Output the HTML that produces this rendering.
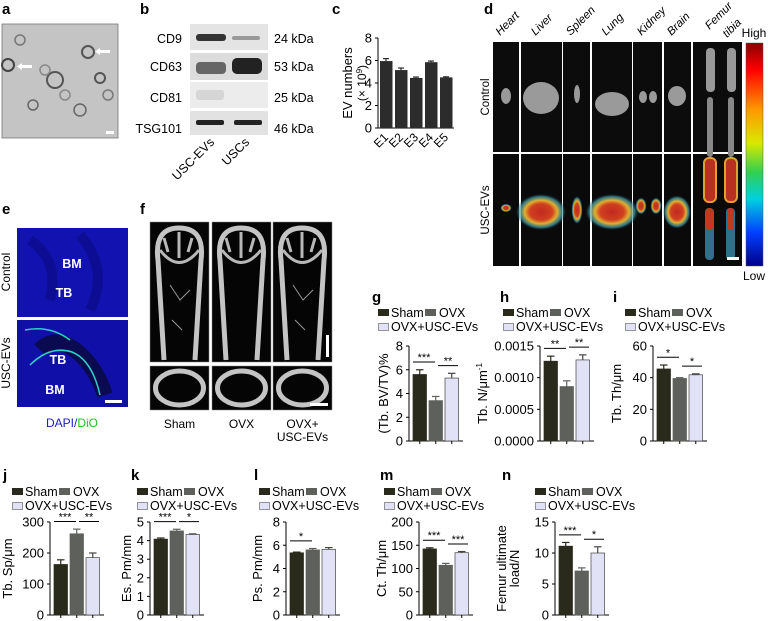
<!DOCTYPE html>
<html><head><meta charset="utf-8"><style>
html,body{margin:0;padding:0;background:#fff;}
svg{display:block;font-family:"Liberation Sans",Arial,sans-serif;}
.t{font-weight:bold;font-size:15px;}
.lg{font-size:12.5px;}
</style></head><body>
<svg id="fig" width="768" height="621" viewBox="0 0 768 621" xmlns="http://www.w3.org/2000/svg">
<defs>
<radialGradient id="heat"><stop offset="0" stop-color="#c02a20"/><stop offset="0.45" stop-color="#d04020"/><stop offset="0.65" stop-color="#e0b030"/><stop offset="0.85" stop-color="#40a0b0" stop-opacity="0.7"/><stop offset="1" stop-color="#103040" stop-opacity="0"/></radialGradient>
<linearGradient id="cbar" x1="0" y1="0" x2="0" y2="1"><stop offset="0" stop-color="#8a0000"/><stop offset="0.12" stop-color="#ff0000"/><stop offset="0.3" stop-color="#ff9900"/><stop offset="0.45" stop-color="#d8e800"/><stop offset="0.58" stop-color="#30d050"/><stop offset="0.7" stop-color="#00d0e0"/><stop offset="0.85" stop-color="#0040ff"/><stop offset="1" stop-color="#00008a"/></linearGradient>
</defs>

<text class="t" x="2" y="14">a</text>
<g>
<rect x="2" y="24" width="116" height="114" fill="#c4c4c4" stroke="#777" stroke-width="0.8"/>
<circle cx="8" cy="65" r="6" fill="none" stroke="#444" stroke-width="2"/>
<circle cx="88" cy="52" r="6" fill="none" stroke="#555" stroke-width="2"/>
<circle cx="55" cy="80" r="8" fill="none" stroke="#555" stroke-width="2"/>
<circle cx="20" cy="40" r="5" fill="none" stroke="#777" stroke-width="1.5"/>
<circle cx="100" cy="78" r="5" fill="none" stroke="#555" stroke-width="2"/>
<circle cx="45" cy="70" r="5" fill="none" stroke="#888" stroke-width="1.5"/>
<circle cx="33" cy="105" r="5" fill="none" stroke="#666" stroke-width="1.5"/>
<circle cx="80" cy="110" r="6" fill="none" stroke="#666" stroke-width="1.5"/>
<circle cx="65" cy="95" r="5" fill="none" stroke="#888" stroke-width="1.5"/>
<circle cx="108" cy="95" r="5" fill="none" stroke="#777" stroke-width="1.5"/>
<rect x="20" y="65" width="12" height="3" fill="#fff"/><path d="M17 66.5 L22 63 L22 70Z" fill="#fff"/>
<rect x="98" y="50" width="12" height="3" fill="#fff"/><path d="M95 51.5 L100 48 L100 55Z" fill="#fff"/>
<rect x="106" y="131" width="8" height="3" fill="#fff"/>
</g>

<text class="t" x="140" y="14">b</text>
<g font-size="12.5">
<rect x="190" y="24" width="78" height="26" fill="#e4e4e4"/>
<rect x="196" y="34" width="30" height="7" rx="3" fill="#333"/><rect x="232" y="36" width="28" height="4" rx="2" fill="#999"/>
<rect x="190" y="53" width="78" height="27" fill="#dcdcdc"/>
<rect x="196" y="62" width="30" height="12" rx="4" fill="#666"/><rect x="232" y="58" width="30" height="16" rx="5" fill="#222"/>
<rect x="190" y="82" width="78" height="26" fill="#ececec"/>
<rect x="196" y="90" width="28" height="10" rx="3" fill="#d6d6d6"/>
<rect x="190" y="111" width="78" height="24" fill="#e2e2e2"/>
<rect x="196" y="120" width="28" height="5" rx="2" fill="#222"/><rect x="234" y="120" width="28" height="5" rx="2" fill="#222"/>
<text x="182" y="43" text-anchor="end">CD9</text>
<text x="182" y="71" text-anchor="end">CD63</text>
<text x="182" y="102" text-anchor="end">CD81</text>
<text x="182" y="133" text-anchor="end">TSG101</text>
<text x="274" y="43">24 kDa</text><text x="274" y="71">53 kDa</text><text x="274" y="102">25 kDa</text><text x="274" y="133">46 kDa</text>
<text x="215" y="143" text-anchor="end" transform="rotate(-45 215 143)">USC-EVs</text>
<text x="250" y="143" text-anchor="end" transform="rotate(-45 250 143)">USCs</text>
</g>

<text class="t" x="332" y="14">c</text>
<g id="chartC"></g>

<text class="t" x="484" y="14">d</text>
<g id="panelD" font-size="11.5"></g>
<g font-size="12">
<rect x="746" y="43" width="17" height="223" fill="url(#cbar)" stroke="#555" stroke-width="0.5"/>
<text x="754" y="37" text-anchor="middle">High</text>
<text x="754" y="280" text-anchor="middle">Low</text>
</g>

<text class="t" x="2" y="214">e</text>
<g>
<rect x="17" y="228" width="111" height="89" fill="#1212b0"/>
<path d="M30 240 Q60 260 50 300 M80 235 Q110 270 90 310" stroke="#0a0a80" stroke-width="10" fill="none" opacity="0.6"/>
<rect x="17" y="320" width="111" height="87" fill="#1010a8"/>
<path d="M40 350 Q55 335 75 350 Q95 365 105 395" stroke="#0a0a50" stroke-width="16" fill="none"/>
<path d="M30 365 Q50 345 72 352 Q92 360 100 395 M25 330 Q50 325 70 340" stroke="#30d0c8" stroke-width="1.5" fill="none"/>
<rect x="105" y="400" width="17" height="3" fill="#fff"/>
<text x="72" y="268" fill="#fff" font-weight="bold" font-size="12.5" text-anchor="middle">BM</text>
<text x="64" y="297" fill="#fff" font-weight="bold" font-size="12.5" text-anchor="middle">TB</text>
<text x="58" y="364" fill="#fff" font-weight="bold" font-size="12.5" text-anchor="middle">TB</text>
<text x="55" y="394" fill="#fff" font-weight="bold" font-size="12.5" text-anchor="middle">BM</text>
<text x="10" y="272" font-size="12" text-anchor="middle" transform="rotate(-90 10 272)">Control</text>
<text x="10" y="363" font-size="12" text-anchor="middle" transform="rotate(-90 10 363)">USC-EVs</text>
<text x="72" y="427" font-size="12" text-anchor="middle"><tspan fill="#2020c0">DAPI/</tspan><tspan fill="#20c020">DiO</tspan></text>
</g>

<text class="t" x="140" y="214">f</text>
<g id="panelF"></g>

<text class="t" x="372" y="302">g</text>
<text class="t" x="500" y="302">h</text>
<text class="t" x="613" y="302">i</text>
<text class="t" x="3" y="480">j</text>
<text class="t" x="131" y="480">k</text>
<text class="t" x="254" y="480">l</text>
<text class="t" x="380" y="480">m</text>
<text class="t" x="502" y="480">n</text>
<g id="charts"></g>
</svg>
<script>
const cCategories = ["E1","E2","E3","E4","E5"];
const cValues = [5.95, 5.15, 4.45, 5.85, 4.5];
const cErrors = [0.22, 0.18, 0.08, 0.1, 0.05];
const cTicks = [0, 2, 4, 6, 8];

const groups = ["Sham","OVX","OVX+USC-EVs"];
const gValues = [5.6, 3.4, 5.3];      const gErrors = [0.4, 0.35, 0.4];      const gTicks = [0,2,4,6,8];
const hValues = [0.00126, 0.00086, 0.00128]; const hErrors = [0.00008, 0.00009, 0.00008]; const hTicks = [0,0.0005,0.001,0.0015];
const hTickLabels = ["0.0000","0.0005","0.0010","0.0015"];
const iValues = [45.5, 39.5, 41.8];   const iErrors = [2.5, 0.5, 0.6];       const iTicks = [0,20,40,60];
const jValues = [163, 262, 185];      const jErrors = [15, 15, 15];          const jTicks = [0,100,200,300];
const kValues = [4.08, 4.52, 4.33];   const kErrors = [0.06, 0.09, 0.03];    const kTicks = [0,1,2,3,4,5];
const lValues = [5.35, 5.6, 5.65];    const lErrors = [0.06, 0.12, 0.15];    const lTicks = [0,2,4,6,8];
const mValues = [142, 107, 134];      const mErrors = [2.5, 4, 2.5];         const mTicks = [0,50,100,150,200];
const nValues = [11.1, 7.1, 10.0];    const nErrors = [0.6, 0.5, 1.0];       const nTicks = [0,5,10,15];
const gSig = ["***","**"]; const hSig = ["**","**"]; const iSig = ["*","*"]; const jSig = ["***","**"];
const kSig = ["***","*"]; const lSig = ["*"]; const mSig = ["***","***"]; const nSig = ["***","*"];

const NS = "http://www.w3.org/2000/svg";
function mk(tag, attrs, parent, txt){
  const e = document.createElementNS(NS, tag);
  for (const k in attrs) e.setAttribute(k, attrs[k]);
  if (txt !== undefined) e.textContent = txt;
  parent.appendChild(e); return e;
}
const colors = ["#2a2a1c","#5e605b","#e2e2f6"];

(function(){
  const root = document.getElementById('chartC');
  const ax = 378, yT = 38, yB = 128, max = 8;
  const y = v => yB - v / max * (yB - yT);
  mk('line',{x1:ax,y1:yT,x2:ax,y2:yB,stroke:'#000','stroke-width':1},root);
  mk('line',{x1:ax,y1:yB,x2:ax+76,y2:yB,stroke:'#000','stroke-width':1},root);
  cTicks.forEach(t=>{
    const tk = mk('line',{x1:ax-3,y1:y(t),x2:ax,y2:y(t),stroke:'#000'},root);
    
    
    const lb = mk('text',{x:ax-6,y:y(t)+4.5,'text-anchor':'end','font-size':13},root,String(t));
    
    
  });
  cValues.forEach((v,i)=>{
    const x = ax + 2 + i * 15;
    const b = mk('rect',{x:x,y:y(v),width:12.5,height:yB-y(v),fill:'#2c2c2c'},root);
    
    
    mk('line',{x1:x+6,y1:y(v),x2:x+6,y2:y(v+cErrors[i]),stroke:'#2c2c2c','stroke-width':1.2},root);
    mk('line',{x1:x+3,y1:y(v+cErrors[i]),x2:x+9,y2:y(v+cErrors[i]),stroke:'#2c2c2c','stroke-width':1.2},root);
    const lb = mk('text',{x:x+9,y:yB+10,'text-anchor':'end','font-size':12,transform:`rotate(-45 ${x+9} ${yB+10})`},root,cCategories[i]);
    
    
  });
  const yl = mk('text',{x:352,y:83,'text-anchor':'middle','font-size':13,transform:'rotate(-90 352 83)'},root,'EV numbers');
  
  
  const yl2 = mk('text',{x:366,y:83,'text-anchor':'middle','font-size':12,transform:'rotate(-90 366 83)'},root);
  yl2.innerHTML = '(× 10<tspan dy="-4" font-size="8">9</tspan><tspan dy="4">)</tspan>';
  
  
})();

(function(){
  const root = document.getElementById('panelD');
  const cols = [["Heart",493,26],["Liver",521,41],["Spleen",563,27],["Lung",592,40],["Kidney",633,29],["Brain",664,27],["Femur",693,49]];
  cols.forEach(c=>{
    const [name,x,w] = c;
    mk('rect',{x:x,y:42,width:w,height:110,fill:'#0c0c0c'},root);
    mk('rect',{x:x,y:154,width:w,height:112,fill:'#0a0a0a'},root);
    const lx = name==="Femur" ? x+w/2-8 : x+w/2-6;
    const ly = name==="Femur" ? 30 : 36;
    const lb = mk('text',{x:lx,y:ly,transform:`rotate(-45 ${lx} ${ly})`,'font-style':'italic'},root,name);
    
    
  });
  const tb = mk('text',{x:727,y:38,'font-style':'italic',transform:'rotate(-45 727 38)'},root,'tibia');
  
  
  const g1 = [[506,96,5,8],[541,98,18,16],[577,94,3,9],[612,104,17,12],[643,97,4,6],[653,97,4,6],[677,96,9,10]];
  g1.forEach(b=>mk('ellipse',{cx:b[0],cy:b[1],rx:b[2],ry:b[3],fill:'#9a9a9a'},root));
  [[710,60],[731,60]].forEach(p=>{mk('rect',{x:p[0]-4,y:p[1]-12,width:9,height:44,rx:4,fill:'#999'},root);mk('rect',{x:p[0]-3,y:p[1]+37,width:6,height:60,rx:3,fill:'#888'},root);});
  const g2 = [[506,208,4,3],[541,212,18,13],[577,210,4,10],[612,212,19,13],[641,206,4,6],[656,206,4,6],[677,212,10,12]];
  g2.forEach(b=>mk('ellipse',{cx:b[0],cy:b[1],rx:b[2]*1.4,ry:b[3]*1.4,fill:'url(#heat)'},root));
  [[710],[731]].forEach(p=>{mk('rect',{x:p[0]-6,y:158,width:12,height:44,rx:5,fill:'#b83020',stroke:'#e0a030','stroke-width':2},root);mk('rect',{x:p[0]-5,y:208,width:9,height:52,rx:4,fill:'#30708a'},root);mk('rect',{x:p[0]-4,y:208,width:7,height:22,rx:3,fill:'#c03a20'},root);});
  mk('rect',{x:727,y:257,width:12,height:3,fill:'#fff'},root);
  const t1 = mk('text',{x:489,y:97,'text-anchor':'middle',transform:'rotate(-90 489 97)'},root,'Control');
  
  
  const t2 = mk('text',{x:489,y:210,'text-anchor':'middle',transform:'rotate(-90 489 210)'},root,'USC-EVs');
  
  
})();

(function(){
  const root = document.getElementById('panelF');
  const xs = [150,212,273], names = ["Sham","OVX","OVX+"];
  xs.forEach((x,i)=>{
    mk('rect',{x:x,y:222,width:59,height:140,fill:'#050505',stroke:'#888','stroke-width':0.5},root);
    mk('path',{d:`M${x+14} 360 L${x+8} 260 Q${x+4} 228 ${x+29} 228 Q${x+55} 228 ${x+51} 260 L${x+45} 360`,stroke:'#c4c4c4','stroke-width':5,fill:'none'},root);
    mk('path',{d:`M${x+10} 250 Q${x+29} 275 ${x+49} 250 M${x+14} 238 L${x+18} 252 M${x+29} 232 L${x+29} 258 M${x+42} 238 L${x+38} 252`,stroke:'#b8b8b8','stroke-width':3,fill:'none'},root);
    if(i!==1) mk('path',{d:`M${x+20} 285 L${x+30} 300 L${x+40} 290 M${x+22} 320 L${x+32} 330`,stroke:'#999','stroke-width':1,fill:'none'},root);
    mk('rect',{x:x,y:366,width:59,height:44,fill:'#050505',stroke:'#888','stroke-width':0.5},root);
    mk('ellipse',{cx:x+29.5,cy:388,rx:24,ry:17,stroke:'#c4c4c4','stroke-width':5,fill:'none'},root);
    const lb = mk('text',{x:x+29.5,y:428,'text-anchor':'middle','font-size':12},root,names[i]);
    
    
  });
  mk('text',{x:302.5,y:441,'text-anchor':'middle','font-size':12},root,'USC-EVs');
  mk('rect',{x:326,y:335,width:3,height:22,fill:'#fff'},root);
  mk('rect',{x:310,y:403,width:18,height:3,fill:'#fff'},root);
})();

function barChart(cfg){
  const root = mk('g',{},document.getElementById('charts'));
  
  
  const {ax,yT,yB,ticks,values,errors,sig,lx,ly} = cfg;
  const max = ticks[ticks.length-1];
  const y = v => yB - v / max * (yB - yT);
  const l1 = mk('rect',{x:lx,y:ly-8,width:11,height:7,fill:colors[0]},root);
  
  
  mk('text',{x:lx+13,y:ly,class:'lg'},root,'Sham');
  const l2 = mk('rect',{x:lx+47,y:ly-8,width:11,height:7,fill:colors[1]},root);
  
  
  mk('text',{x:lx+61,y:ly,class:'lg'},root,'OVX');
  const l3 = mk('rect',{x:lx+0.5,y:ly+6.5,width:10,height:7,fill:colors[2],stroke:'#555','stroke-width':0.6},root);
  
  
  mk('text',{x:lx+13,y:ly+14,class:'lg'},root,'OVX+USC-EVs');
  mk('line',{x1:ax,y1:yT,x2:ax,y2:yB,stroke:'#000'},root);
  mk('line',{x1:ax,y1:yB,x2:ax+54,y2:yB,stroke:'#000'},root);
  ticks.forEach((t,k)=>{
    mk('line',{x1:ax-3,y1:y(t),x2:ax,y2:y(t),stroke:'#000'},root);
    const lb = mk('text',{x:ax-6,y:y(t)+4.5,'text-anchor':'end','font-size':13},root, cfg.labels ? cfg.labels[k] : String(t));
    
    
  });
  const bx = i => ax + 4 + i * 16;
  values.forEach((v,i)=>{
    const x = bx(i);
    const b = mk('rect',{x:x,y:y(v),width:13.5,height:yB-y(v),fill:colors[i],stroke:i==2?'#444':colors[i],'stroke-width':0.7},root);
    
    
    const e = v + errors[i];
    const ec = i===2 ? '#444' : colors[i];
    mk('line',{x1:x+6.75,y1:y(v),x2:x+6.75,y2:y(e),stroke:ec,'stroke-width':1.2},root);
    mk('line',{x1:x+3,y1:y(e),x2:x+10.5,y2:y(e),stroke:ec,'stroke-width':1.2},root);
    mk('line',{x1:x+6.75,y1:yB,x2:x+6.75,y2:yB+3,stroke:'#000'},root);
  });
  const top = values.map((v,i)=>v+errors[i]);
  sig.forEach((s,k)=>{
    let x1,x2,lv;
    if(k===0){x1=bx(0);x2=bx(1)+6;lv=Math.max(top[0],top[1]);}
    else {x1=bx(1)+9;x2=bx(2)+13;lv=Math.max(top[1],top[2]);}
    const yy = y(lv) - 0.06*(yB-yT) - 2;
    const ln = mk('line',{x1:x1,y1:yy,x2:x2,y2:yy,stroke:'#000'},root);
    
    
    mk('text',{x:(x1+x2)/2,y:yy-1,'text-anchor':'middle','font-size':11},root,s);
  });
  cfg.title.forEach((t,k)=>{
    const tx = cfg.tx + k*13;
    const tt = mk('text',{x:tx,y:(yT+yB)/2,'text-anchor':'middle','font-size':13,transform:`rotate(-90 ${tx} ${(yT+yB)/2})`},root);
    tt.innerHTML = t;
    
    
  });
}
barChart({name:'chart-g',ax:409,yT:346,yB:441,ticks:gTicks,values:gValues,errors:gErrors,sig:gSig,lx:378,ly:317,tx:388,title:['(Tb. BV/TV)%']});
barChart({name:'chart-h',ax:540,yT:346,yB:441,ticks:hTicks,labels:hTickLabels,values:hValues,errors:hErrors,sig:hSig,lx:503,ly:317,tx:487,title:['Tb. N/μm<tspan dy="-5" font-size="8">-1</tspan>']});
barChart({name:'chart-i',ax:653,yT:346,yB:441,ticks:iTicks,values:iValues,errors:iErrors,sig:iSig,lx:625,ly:317,tx:621,title:['Tb. Th/μm']});
barChart({name:'chart-j',ax:50,yT:522,yB:615,ticks:jTicks,values:jValues,errors:jErrors,sig:jSig,lx:12,ly:496,tx:12,title:['Tb. Sp/μm']});
barChart({name:'chart-k',ax:150,yT:522,yB:615,ticks:kTicks,values:kValues,errors:kErrors,sig:kSig,lx:137,ly:496,tx:131,title:['Es. Pm/mm']});
barChart({name:'chart-l',ax:286,yT:522,yB:615,ticks:lTicks,values:lValues,errors:lErrors,sig:lSig,lx:259,ly:496,tx:262,title:['Ps. Pm/mm']});
barChart({name:'chart-m',ax:419,yT:522,yB:615,ticks:mTicks,values:mValues,errors:mErrors,sig:mSig,lx:384,ly:496,tx:386,title:['Ct. Th/μm']});
barChart({name:'chart-n',ax:555,yT:522,yB:615,ticks:nTicks,values:nValues,errors:nErrors,sig:nSig,lx:535,ly:496,tx:506,title:['Femur ultimate','load/N']});
</script>
</body></html>
